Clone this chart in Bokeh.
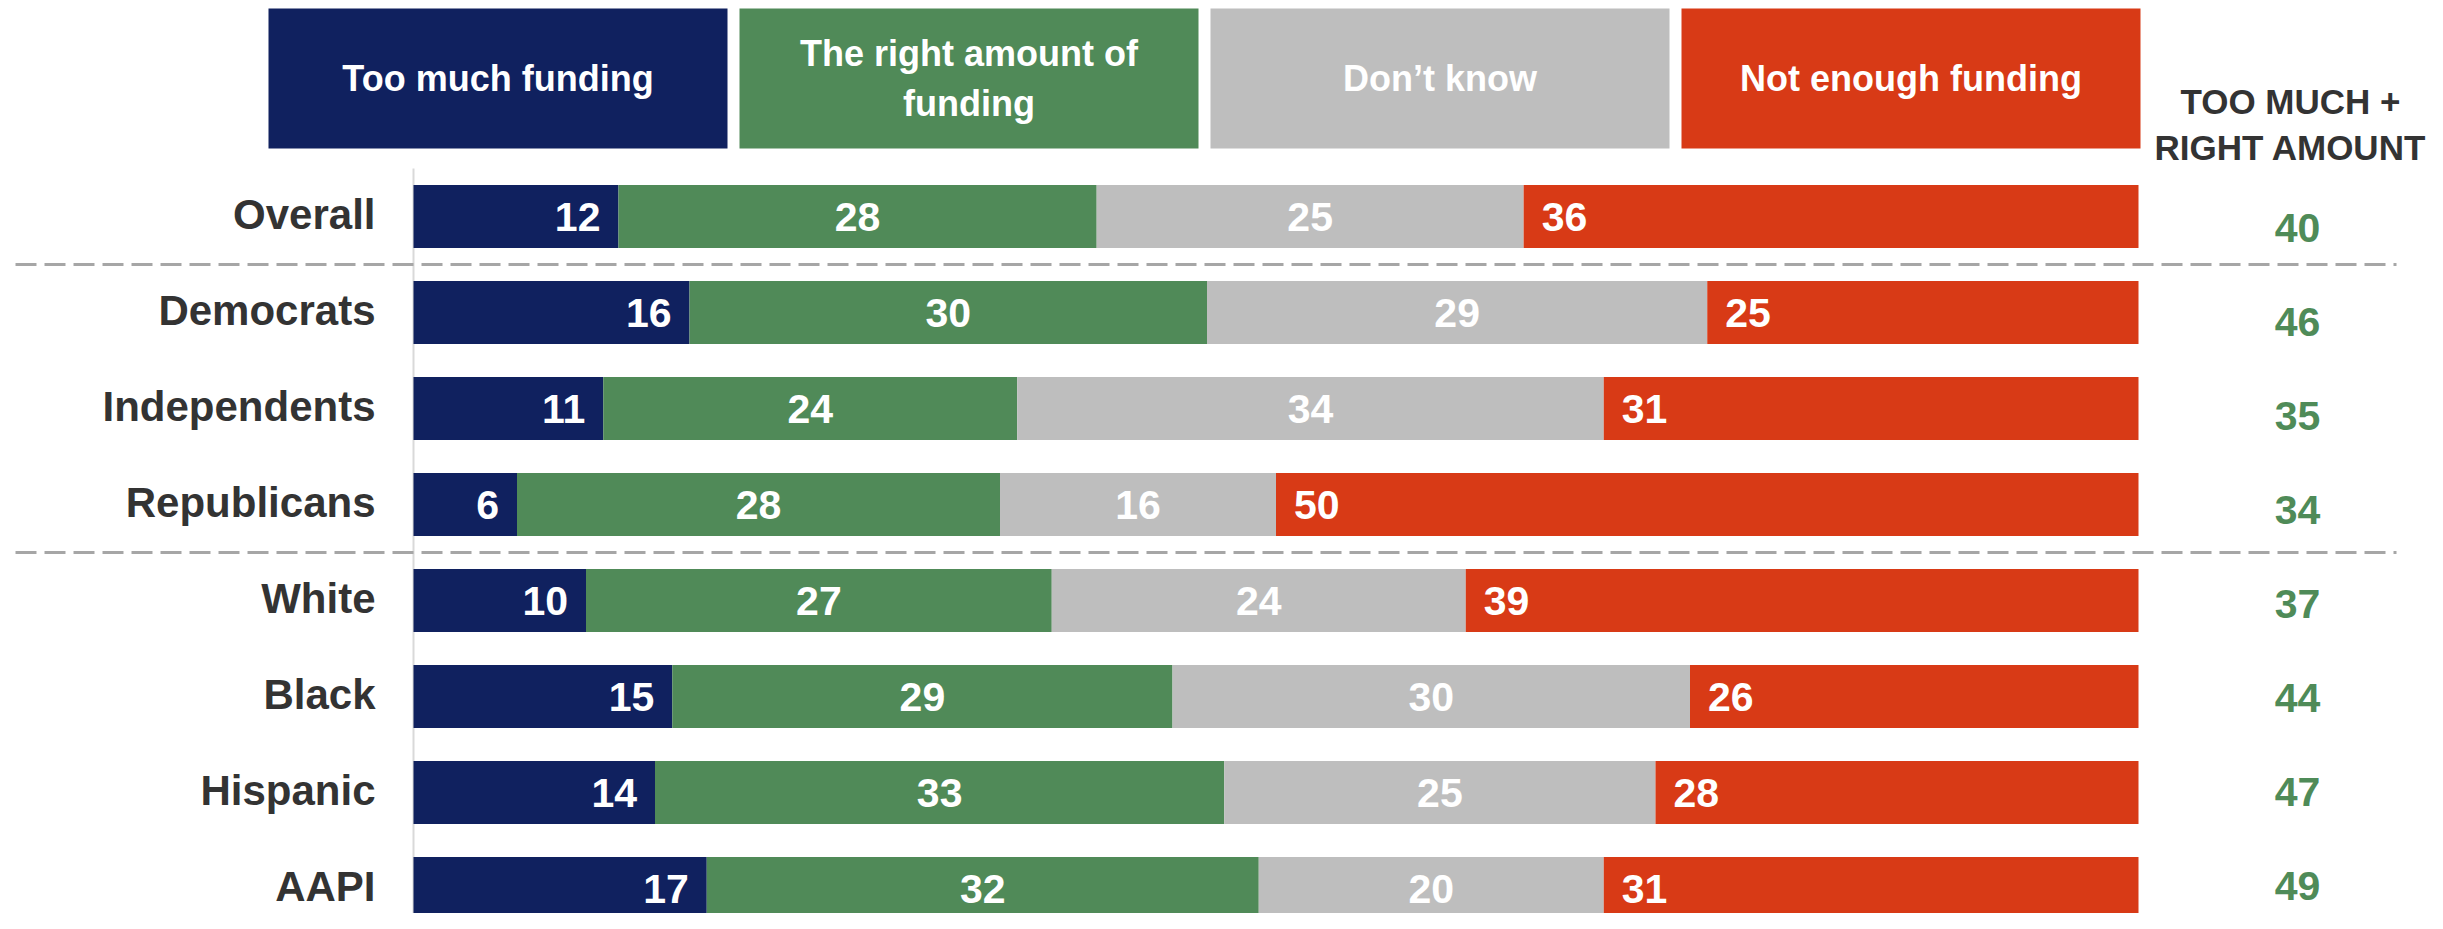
from bokeh.plotting import figure
from bokeh.models import Range1d
from bokeh.core.properties import value
from bokeh.embed import file_html
from bokeh.resources import INLINE

# ---------------- data ----------------
categories = ["Overall", "Democrats", "Independents", "Republicans",
              "White", "Black", "Hispanic", "AAPI"]
too_much = [12, 16, 11, 6, 10, 15, 14, 17]
right_amount = [28, 30, 24, 28, 27, 29, 33, 32]
dont_know = [25, 29, 34, 16, 24, 30, 25, 20]
not_enough = [36, 25, 31, 50, 39, 26, 28, 31]
too_much_plus_right = [40, 46, 35, 34, 37, 44, 47, 49]
series_names = ["Too much funding", "The right amount of\nfunding",
                "Don\u2019t know", "Not enough funding"]
right_header = "TOO MUCH +\nRIGHT AMOUNT"
group_breaks = [1, 4]  # separator lines drawn before these rows

# ---------------- style ----------------
colors = ["#10215f", "#508a58", "#bebebe", "#d83a16"]
FONT = value("Liberation Sans")
DARK = "#333333"
GREEN_TXT = "#4f8b58"

W, H = 2427, 913
X0, PXU = 413.0, 17.25      # canvas px of 0 %, px per percent
Y0, ROW = 216.0, 96.0       # canvas px of first row centre, px per row


def X(P):
    return (P - X0) / PXU


def Y(P):
    return (P - Y0) / ROW


p = figure(width=W, height=H,
           x_range=Range1d(X(0), X(W)),
           y_range=Range1d(Y(H), Y(0)),
           output_backend="svg", toolbar_location=None,
           x_axis_location=None, y_axis_location=None,
           min_border=0, min_border_left=0, min_border_right=0,
           min_border_top=0, min_border_bottom=0)
p.grid.visible = False
p.outline_line_color = None
p.background_fill_color = "white"
p.border_fill_color = "white"

rows = list(range(len(categories)))
series = [too_much, right_amount, dont_know, not_enough]
totals = [sum(v) for v in zip(*series)]

# vertical axis line
p.segment(x0=[0], y0=[Y(168)], x1=[0], y1=[Y(935)],
          line_color="#d9d9d9", line_width=2)

# dashed group separators
sep_y = [b - 0.5 for b in group_breaks]
p.segment(x0=[X(15)] * len(sep_y), y0=sep_y, x1=[X(2396)] * len(sep_y), y1=sep_y,
          line_color="#a6a6a6", line_width=3, line_dash="21 8")

# stacked bars (normalised to row total)
cum = [0.0] * len(rows)
pad = 18 / PXU
for k, vals in enumerate(series):
    left = [c / t * 100 for c, t in zip(cum, totals)]
    right = [(c + v) / t * 100 for c, v, t in zip(cum, vals, totals)]
    p.hbar(y=rows, left=left, right=right, height=0.656,
           fill_color=colors[k], line_color=None)
    if k == 0:
        xs, align = [r - pad for r in right], "right"
    elif k == 3:
        xs, align = [l + pad for l in left], "left"
    else:
        xs, align = [(l + r) / 2 for l, r in zip(left, right)], "center"
    p.text(x=xs, y=rows, text=[str(v) for v in vals],
           text_font=FONT, text_font_style="bold", text_font_size="41px",
           text_color="white", text_align=align, text_baseline="middle")
    cum = [c + v for c, v in zip(cum, vals)]

# category labels
p.text(x=[X(375)] * len(rows), y=[r - 2 / ROW for r in rows], text=categories,
       text_font=FONT, text_font_style="bold", text_font_size="42px",
       text_color=DARK, text_align="right", text_baseline="middle")

# right-hand totals column
p.text(x=[X(2297)] * len(rows), y=[Y(227) + r * 94.1 / ROW for r in rows],
       text=[str(v) for v in too_much_plus_right],
       text_font=FONT, text_font_style="bold", text_font_size="41px",
       text_color=GREEN_TXT, text_align="center", text_baseline="middle")
p.text(x=[X(2290)], y=[Y(124)], text=[right_header],
       text_font=FONT, text_font_style="bold", text_font_size="35px",
       text_line_height=1.2,
       text_color=DARK, text_align="center", text_baseline="middle")

# header legend boxes
box_w, gap, box_left0 = 459.0, 12.0, 268.0
lefts = [X(box_left0 + k * (box_w + gap)) for k in range(4)]
rights = [X(box_left0 + k * (box_w + gap) + box_w) for k in range(4)]
p.quad(left=lefts, right=rights, top=[Y(8)] * 4, bottom=[Y(148)] * 4,
       fill_color=colors, line_color=None)
p.text(x=[(l + r) / 2 for l, r in zip(lefts, rights)], y=[Y(78)] * 4,
       text=series_names,
       text_font=FONT, text_font_style="bold", text_font_size="36px",
       text_line_height=1.2,
       text_color="white", text_align="center", text_baseline="middle")

open("out.html", "w").write(file_html(p, INLINE))
